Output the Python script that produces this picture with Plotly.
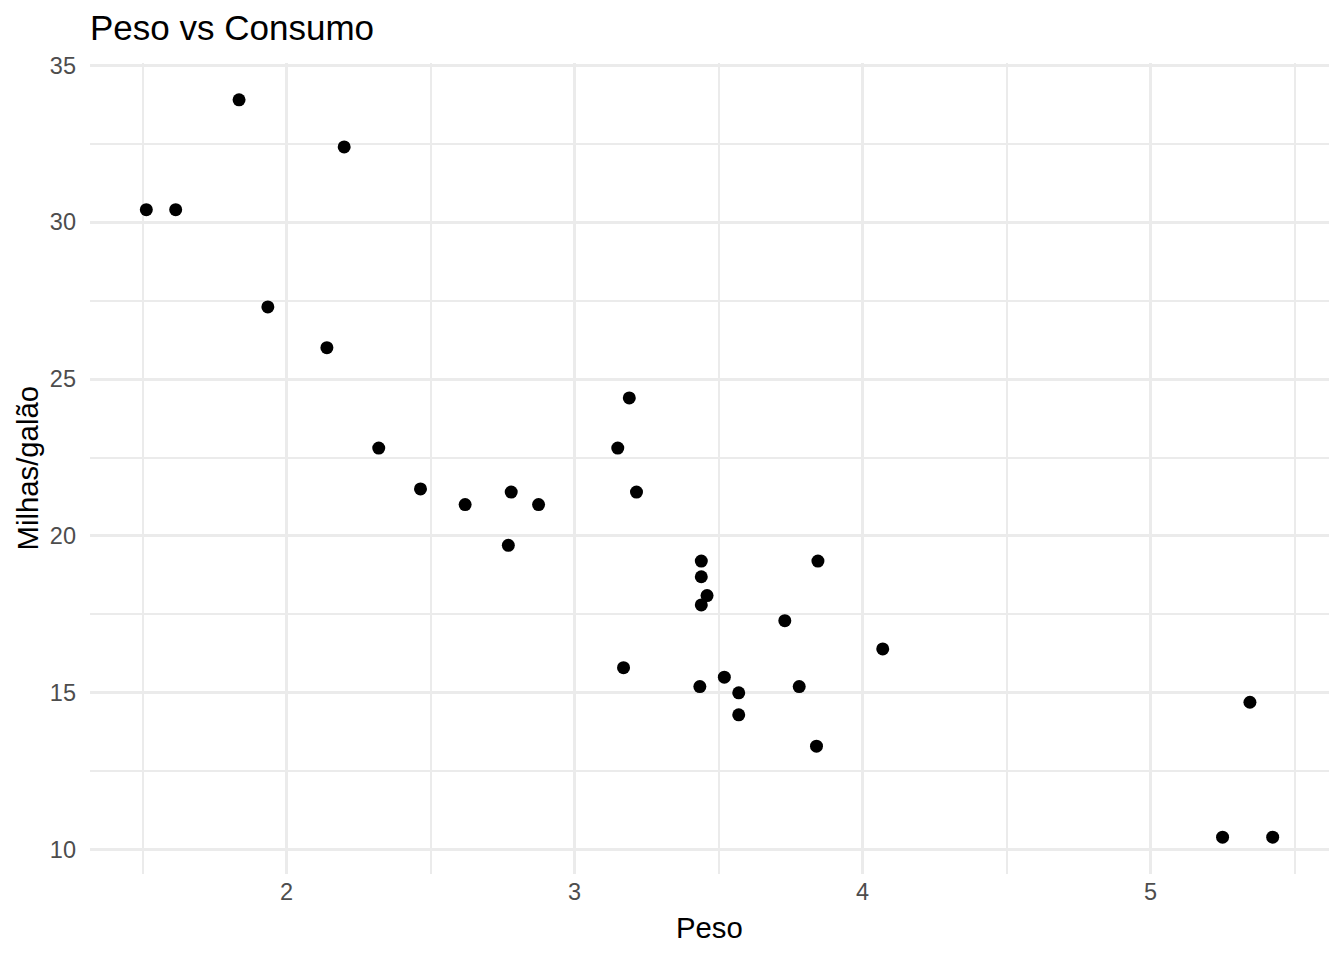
import plotly.graph_objects as go

peso = [2.620, 2.875, 2.320, 3.215, 3.440, 3.460, 3.570, 3.190, 3.150, 3.440, 3.440,
        4.070, 3.730, 3.780, 5.250, 5.424, 5.345, 2.200, 1.615, 1.835, 2.465, 3.520,
        3.435, 3.840, 3.845, 1.935, 2.140, 1.513, 3.170, 2.770, 3.570, 2.780]
consumo = [21.0, 21.0, 22.8, 21.4, 18.7, 18.1, 14.3, 24.4, 22.8, 19.2, 17.8,
           16.4, 17.3, 15.2, 10.4, 10.4, 14.7, 32.4, 30.4, 33.9, 21.5, 15.5,
           15.2, 13.3, 19.2, 27.3, 26.0, 30.4, 15.8, 19.7, 15.0, 21.4]

x_ticks = [2, 3, 4, 5]
y_ticks = [10, 15, 20, 25, 30, 35]

FONT = "Liberation Sans, Arial, sans-serif"
GRID = "#EBEBEB"

W, H = 1336, 952  # page body has an 8px margin
ML, MR, MT, MB = 82, 15, 55, 86
PW = W - ML - MR
PH = H - MT - MB

fig = go.Figure()
fig.add_trace(go.Scatter(
    x=peso, y=consumo, mode="markers",
    marker=dict(color="black", size=13, line=dict(width=0)),
    showlegend=False,
))

xmin, xmax = min(peso), max(peso)
ymin, ymax = min(consumo), max(consumo)
xpad = (xmax - xmin) * 0.05
ypad = (ymax - ymin) * 0.05

fig.update_layout(
    width=W, height=H,
    paper_bgcolor="white", plot_bgcolor="white",
    margin=dict(l=ML, r=MR, t=MT, b=MB, pad=0),
    font=dict(family=FONT, color="black"),
    title=dict(text="Peso vs Consumo", x=0, xref="paper", xanchor="left",
               y=1 - 20/H, yref="container", yanchor="middle",
               font=dict(size=35, color="black", family=FONT)),
    xaxis=dict(
        range=[xmin - xpad, xmax + xpad],
        tickvals=x_ticks, ticktext=[str(v) for v in x_ticks],
        showgrid=True, gridcolor=GRID, gridwidth=3,
        minor=dict(dtick=0.5, tick0=1.5, showgrid=True, gridcolor=GRID, gridwidth=1.6),
        zeroline=False, showline=False, ticks="",
        tickfont=dict(size=23.5, color="#4D4D4D", family=FONT),
        ticklabelstandoff=1,
    ),
    yaxis=dict(
        range=[ymin - ypad, ymax + ypad],
        tickvals=y_ticks, ticktext=[str(v) for v in y_ticks],
        showgrid=True, gridcolor=GRID, gridwidth=3,
        minor=dict(dtick=5, tick0=12.5, showgrid=True, gridcolor=GRID, gridwidth=1.6),
        zeroline=False, showline=False, ticks="",
        tickfont=dict(size=23.5, color="#4D4D4D", family=FONT),
        ticklabelstandoff=13,
    ),
    annotations=[
        dict(text="Peso", xref="paper", yref="paper", x=0.5, y=-(920 - (H - MB)) / PH,
             xanchor="center", yanchor="middle", showarrow=False,
             font=dict(size=29.3, color="black", family=FONT)),
        dict(text="Milhas/galão", xref="paper", x=(19 - ML) / PW, yref="paper", y=0.5,
             xanchor="center", yanchor="middle", textangle=-90, showarrow=False,
             font=dict(size=29.3, color="black", family=FONT)),
    ],
)

fig.write_html("out.html")
